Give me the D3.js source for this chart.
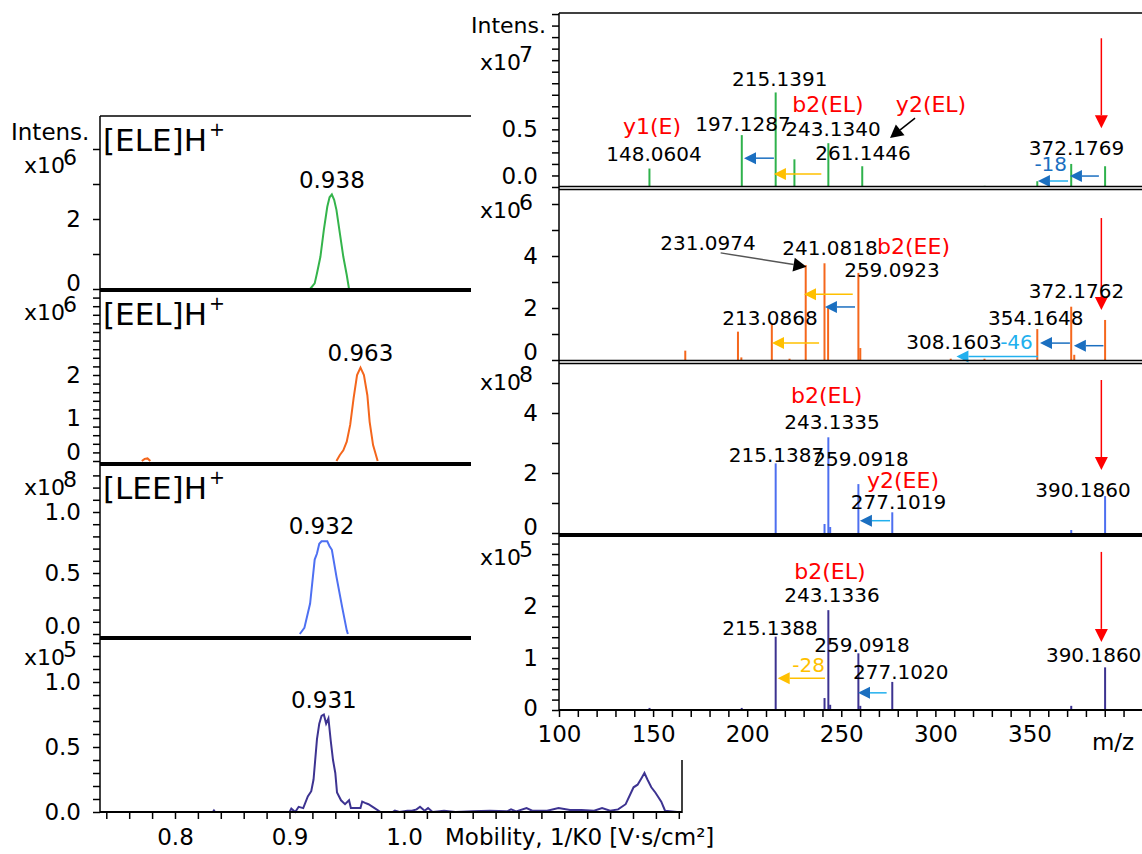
<!DOCTYPE html>
<html lang="en">
<head>
<meta charset="UTF-8">
<title>Mobilograms and MS/MS spectra</title>
<script src="https://d3js.org/d3.v7.min.js"></script>
<style>
  body { margin: 0; background: #fff; }
  svg text { font-family: "DejaVu Sans", Verdana, sans-serif; }
</style>
</head>
<body>
<div id="chart"></div>
<script>
// ---------- mobilogram data (1/K0, intensity) ----------
const eleMob = [0.918, 0.922, 0.924, 0.927, 0.930, 0.933, 0.935, 0.937, 0.939, 0.941, 0.944, 0.947, 0.950, 0.952];
const eleInt = [0, 0.16, 0.45, 0.92, 1.69, 2.35, 2.62, 2.70, 2.55, 2.26, 1.59, 0.92, 0.40, 0];

const eelMob = [0.771, 0.7735, 0.776, 0.7785, 0.86, 0.941, 0.944, 0.947, 0.950, 0.953, 0.956, 0.959, 0.962, 0.965, 0.968, 0.970, 0.973, 0.977];
const eelInt = [0, 0.05, 0.06, 0, null, 0, 0.14, 0.25, 0.45, 0.84, 1.46, 2.0, 2.17, 2.0, 1.53, 0.91, 0.37, 0];

const leeMob = [0.909, 0.913, 0.918, 0.922, 0.924, 0.926, 0.928, 0.933, 0.935, 0.937, 0.941, 0.946, 0.950, 0.951];
const leeInt = [0, 0.05, 0.25, 0.61, 0.66, 0.74, 0.76, 0.76, 0.72, 0.69, 0.47, 0.22, 0.03, 0];

const ticMob = [0.833, 0.834, 0.835, 0.900, 0.9016, 0.905, 0.908, 0.912, 0.916, 0.919, 0.921, 0.924, 0.926, 0.928, 0.930,
  0.932, 0.934, 0.936, 0.938, 0.940, 0.9415, 0.945, 0.9485, 0.952, 0.9536, 0.962, 0.9635, 0.966, 0.969, 0.9743, 0.9795,
  0.990, 0.992, 0.996, 1.003, 1.007, 1.011, 1.014, 1.018, 1.021, 1.025, 1.035, 1.045, 1.060, 1.075, 1.090, 1.0935, 1.098,
  1.107, 1.112, 1.125, 1.135, 1.145, 1.155, 1.166, 1.173, 1.180, 1.187, 1.1936, 1.2005, 1.204, 1.2074, 1.210, 1.2126,
  1.216, 1.2195, 1.2247, 1.228, 1.2385, 1.2415];
const ticInt = [0, 0.012, 0, 0, 0.026, 0, 0.04, 0.03, 0.12, 0.16, 0.25, 0.56, 0.68, 0.74, 0.75,
  0.68, 0.72, 0.55, 0.40, 0.30, 0.15, 0.09, 0.06, 0.09, 0.03, 0.03, 0.08, 0.07, 0.06, 0.03, 0,
  0, 0.01, 0, 0.01, 0.01, 0.02, 0.04, 0.01, 0.03, 0, 0.01, 0, 0.005, 0.01, 0.005, 0.02, 0.005,
  0.03, 0.01, 0.01, 0.03, 0.015, 0.015, 0.01, 0.03, 0.01, 0.02, 0.06, 0.19, 0.21, 0.26, 0.30, 0.25,
  0.19, 0.15, 0.08, 0.01, 0, 0];

const mobTicks = d3.range(0.74, 1.2401, 0.02).map(v => +v.toFixed(2));
const mobLabels = [0.8, 0.9, 1.0];
const peakLabels = ["0.938", "0.963", "0.932", "0.931"];
const ionNames = ["[ELE]H", "[EEL]H", "[LEE]H"];

// ---------- MS/MS spectra (m/z, intensity) ----------
const s1Mz  = [148.06, 197.13, 215.14, 225.10, 243.13, 261.14, 326.2, 354.16, 372.18, 390.19];
const s1Int = [0.16, 0.45, 0.82, 0.24, 0.38, 0.18, 0.01, 0.05, 0.20, 0.18];
const s2Mz  = [167.1, 195.1, 196.9, 213.09, 222.5, 231.10, 241.08, 243.0, 259.09, 260.1, 308.16, 326.1, 354.16, 372.18, 373.8, 390.19];
const s2Int = [0.36, 1.09, 0.10, 1.37, 0.05, 3.65, 3.72, 2.0, 3.35, 0.46, 0.05, 0.05, 1.19, 2.05, 0.20, 1.54];
const s3Mz  = [215.14, 241.1, 243.13, 244.1, 259.09, 277.10, 372.2, 390.19];
const s3Int = [2.32, 0.30, 3.19, 0.20, 1.63, 0.69, 0.10, 1.23];
const s4Mz  = [148.1, 197.1, 215.14, 241.1, 243.13, 244.1, 259.09, 260.1, 277.10, 372.2, 390.19];
const s4Int = [0.04, 0.04, 1.41, 0.23, 1.92, 0.10, 1.09, 0.08, 0.54, 0.08, 0.82];

const mzTicks = d3.range(100, 401, 10);
const mzLabels = [100, 150, 200, 250, 300, 350];

// annotations: [text, m/z, intensity]
const s1Peaks = [["148.0604", 150.5, 0.286], ["197.1287", 197.8, 0.546], ["215.1391", 217.3, 0.937],
  ["243.1340", 245.6, 0.503], ["261.1446", 261.5, 0.295], ["372.1769", 375.0, 0.338]];
const s1Ions = [["y1(E)", 149.4, 0.529], ["b2(EL)", 242.9, 0.72], ["y2(EL)", 297.7, 0.72]];
const s1Notes = [["-18", 361.3, 0.20, "blue"]];
const s1Shifts = [[214.2, 198.3, 0.25, "blue", "blue"], [239.4, 214.2, 0.113, "yellow", "yellow"],
  [386.9, 371.5, 0.095, "blue", "blue"], [370.5, 354.5, 0.052, "light", "blue"]];
const s1Pointers = [[289.2, 0.598, 275.9, 0.425]];
const s1Precursor = [388.2, 1.29, 0.51];

const s2Peaks = [["231.0974", 179.2, 4.5], ["241.0818", 244.0, 4.31], ["259.0923", 276.9, 3.46],
  ["213.0868", 212.1, 1.62], ["308.1603", 309.9, 0.70], ["354.1648", 353.3, 1.62], ["372.1762", 375.0, 2.65]];
const s2Ions = [["b2(EE)", 288.4, 4.36]];
const s2Notes = [["-46", 343.1, 0.70, "light"]];
const s2Shifts = [[256.1, 230.2, 2.53, "yellow", "yellow"], [257.3, 241.3, 2.04, "blue", "blue"],
  [238.2, 213.2, 0.65, "yellow", "yellow"], [354.5, 311.2, 0.13, "light", "light"],
  [371.5, 355.6, 0.65, "blue", "blue"], [389.3, 373.6, 0.55, "blue", "blue"]];
const s2Pointers = [[185.9, 4.12, 231.5, 3.59]];
const s2Precursor = [388.2, 5.46, 1.92];

const s3Peaks = [["243.1335", 245.1, 3.71], ["215.1387", 215.6, 2.6], ["259.0918", 260.5, 2.47],
  ["277.1019", 280.4, 1.04], ["390.1860", 378.4, 1.43]];
const s3Ions = [["b2(EL)", 242.2, 4.6], ["y2(EE)", 282.8, 1.75]];
const s3Notes = [];
const s3Shifts = [[275.9, 259.9, 0.41, "light", "blue"]];
const s3Pointers = [];
const s3Precursor = [388.2, 5.1, 2.1];

const s4Peaks = [["243.1336", 245.1, 2.21], ["215.1388", 212.1, 1.58], ["259.0918", 261.0, 1.25],
  ["277.1020", 281.6, 0.74], ["390.1860", 384.1, 1.06]];
const s4Ions = [["b2(EL)", 244.0, 2.66]];
const s4Notes = [["-28", 232.6, 0.87, "yellow"]];
const s4Shifts = [[241.3, 216.2, 0.61, "yellow", "yellow"], [274.1, 258.9, 0.33, "light", "blue"]];
const s4Pointers = [];
const s4Precursor = [388.2, 3.04, 1.31];

// ---------- styling ----------
const palette = { blue: "#1b6fc0", light: "#22b0ee", yellow: "#ffc000", red: "#ff0000" };
const FONT = "DejaVu Sans, Verdana, sans-serif";
const AXIS_FONT = 23;

const svg = d3.select("#chart").append("svg")
  .attr("width", 1142).attr("height", 854)
  .attr("font-family", FONT);

function hline(x1, x2, y, w) {
  svg.append("line").attr("x1", x1).attr("x2", x2).attr("y1", y).attr("y2", y)
    .attr("stroke", "#000").attr("stroke-width", w);
}
function vline(x, y1, y2, w) {
  svg.append("line").attr("x1", x).attr("x2", x).attr("y1", y1).attr("y2", y2)
    .attr("stroke", "#000").attr("stroke-width", w);
}
function expLabel(x, y, exp, size) {
  const t = svg.append("text").attr("x", x).attr("y", y).attr("dy", "0.35em")
    .attr("font-size", size).text("x10");
  t.append("tspan").attr("dy", -8).attr("dx", -2).text(exp);
}
function arrow(g, x1, y1, x2, y2, lineColor, headColor, hl, hw) {
  const dx = x2 - x1, dy = y2 - y1, L = Math.hypot(dx, dy), ux = dx / L, uy = dy / L;
  const bx = x2 - ux * hl, by = y2 - uy * hl;
  g.append("line").attr("x1", x1).attr("y1", y1).attr("x2", bx).attr("y2", by)
    .attr("stroke", lineColor).attr("stroke-width", 1.5);
  g.append("path")
    .attr("d", `M${x2},${y2}L${bx - uy * hw},${by + ux * hw}L${bx + uy * hw},${by - ux * hw}Z`)
    .attr("fill", headColor);
}
function yAxis(x, y, step, shown, fmt, lift, padding) {
  const vals = d3.range(0, y.domain()[1] + 1e-9, step).map(v => +v.toFixed(2));
  const ax = d3.axisLeft(y).tickValues(vals).tickSize(7).tickPadding(padding)
    .tickFormat(v => shown.some(s => Math.abs(s - v) < 1e-6) ? fmt(v) : "");
  const g = svg.append("g").attr("transform", `translate(${x},0)`).call(ax)
    .attr("font-size", AXIS_FONT).attr("font-family", FONT);
  g.select(".domain").remove();
  g.selectAll(".tick line").attr("stroke-width", 1.5);
  g.selectAll(".tick").filter(v => v === 0).select("text").attr("y", -lift);
  return g;
}

// ---------- left: mobilograms ----------
const xMob = d3.scaleLinear().domain([0.7345, 1.2428]).range([100, 682]);

const leftPanels = [
  { mob: eleMob, val: eleInt, color: "#34b44b", zero: 289, top: 116, per: 35, step: 1, shown: [0, 2], fmt: d3.format("d"), lift: 6, expY: 165, exp: "6" },
  { mob: eelMob, val: eelInt, color: "#f4661c", zero: 461, top: 290, per: 43, step: 0.2, shown: [0, 1, 2], fmt: d3.format("d"), lift: 9, expY: 312, exp: "6" },
  { mob: leeMob, val: leeInt, color: "#4e70f2", zero: 634, top: 464, per: 122, step: 0.1, shown: [0, 0.5, 1], fmt: d3.format(".1f"), lift: 8, expY: 487, exp: "8" },
  { mob: ticMob, val: ticInt, color: "#3d3391", zero: 812, top: 638, per: 130, step: 0.1, shown: [0, 0.5, 1], fmt: d3.format(".1f"), lift: 0, expY: 657, exp: "5" }
];

leftPanels.forEach((p, i) => {
  const y = d3.scaleLinear().domain([0, (p.zero - p.top) / p.per]).range([p.zero, p.top]);
  yAxis(100, y, p.step, p.shown, p.fmt, p.lift, 12);
  const line = d3.line().defined(d => d[1] !== null).x(d => xMob(d[0])).y(d => y(d[1]));
  svg.append("path").datum(d3.zip(p.mob, p.val)).attr("d", line)
    .attr("fill", "none").attr("stroke", p.color).attr("stroke-width", 2);
  const iMax = d3.maxIndex(p.val);
  svg.append("text").attr("x", xMob(p.mob[iMax])).attr("y", y(p.val[iMax]) - 7)
    .attr("text-anchor", "middle").attr("font-size", 23).text(peakLabels[i]);
  expLabel(24, p.expY, p.exp, 22);
  if (i < 3) {
    const t = svg.append("text").attr("x", 103).attr("y", p.top + 35).attr("font-size", 31).text(ionNames[i]);
    t.append("tspan").attr("font-size", 19).attr("dy", -15).attr("dx", 2).text("+");
  }
});
svg.append("text").attr("x", 11).attr("y", 132).attr("dy", "0.35em").attr("font-size", 23).text("Intens.");

hline(100, 472, 116, 1.5);
[290, 464, 638].forEach(yy => hline(100, 472, yy, 4));
vline(100, 116, 813, 1.5);
vline(682, 638, 813, 1.5);

const gMob = svg.append("g").attr("transform", "translate(0,812)")
  .call(d3.axisBottom(xMob).tickValues(mobTicks).tickSize(7).tickPadding(10)
    .tickFormat(v => mobLabels.some(s => Math.abs(s - v) < 1e-6) ? d3.format(".1f")(v) : ""))
  .attr("font-size", AXIS_FONT).attr("font-family", FONT);
gMob.select(".domain").remove();
gMob.selectAll(".tick line").attr("stroke-width", 1.5);
hline(100, 682, 812, 2);
svg.append("text").attr("x", 445).attr("y", 837).attr("dy", "0.35em").attr("font-size", AXIS_FONT)
  .text("Mobility, 1/K0 [V·s/cm²]");

// ---------- right: MS/MS spectra ----------
svg.append("rect").attr("x", 471).attr("y", 0).attr("width", 671).attr("height", 760).attr("fill", "#fff");

const xMz = d3.scaleLinear().domain([100, 409.8]).range([559, 1142]);

const rightPanels = [
  { mz: s1Mz, val: s1Int, color: "#2fb24c", zero: 187, top: 13, per: 115.3, step: 0.1, shown: [0, 0.5], fmt: d3.format(".1f"), lift: 11, expY: 62, exp: "7",
    peaks: s1Peaks, ions: s1Ions, notes: s1Notes, shifts: s1Shifts, pointers: s1Pointers, prec: s1Precursor, ptrLine: "#000" },
  { mz: s2Mz, val: s2Int, color: "#f5671c", zero: 360, top: 190, per: 26, step: 1, shown: [0, 2, 4], fmt: d3.format("d"), lift: 8, expY: 210, exp: "6",
    peaks: s2Peaks, ions: s2Ions, notes: s2Notes, shifts: s2Shifts, pointers: s2Pointers, prec: s2Precursor, ptrLine: "#555" },
  { mz: s3Mz, val: s3Int, color: "#4d6ff0", zero: 533, top: 365, per: 30, step: 1, shown: [0, 2, 4], fmt: d3.format("d"), lift: 6, expY: 382, exp: "8",
    peaks: s3Peaks, ions: s3Ions, notes: s3Notes, shifts: s3Shifts, pointers: s3Pointers, prec: s3Precursor, ptrLine: "#000" },
  { mz: s4Mz, val: s4Int, color: "#3c3290", zero: 710, top: 537, per: 52, step: 0.2, shown: [0, 1, 2], fmt: d3.format("d"), lift: 2, expY: 557, exp: "5",
    peaks: s4Peaks, ions: s4Ions, notes: s4Notes, shifts: s4Shifts, pointers: s4Pointers, prec: s4Precursor, ptrLine: "#000" }
];

rightPanels.forEach(p => {
  const y = d3.scaleLinear().domain([0, (p.zero - p.top) / p.per]).range([p.zero, p.top]);
  yAxis(559, y, p.step, p.shown, p.fmt, p.lift, 14);
  const g = svg.append("g");
  g.selectAll("line.stick").data(d3.zip(p.mz, p.val)).join("line").attr("class", "stick")
    .attr("x1", d => xMz(d[0])).attr("x2", d => xMz(d[0]))
    .attr("y1", y(0)).attr("y2", d => y(d[1]))
    .attr("stroke", p.color).attr("stroke-width", 2);
  p.shifts.forEach(a => arrow(g, xMz(a[0]), y(a[2]), xMz(a[1]), y(a[2]), palette[a[3]], palette[a[4]], 12, 6));
  p.pointers.forEach(a => arrow(g, xMz(a[0]), y(a[1]), xMz(a[2]), y(a[3]), p.ptrLine, "#000", 13, 7));
  arrow(g, xMz(p.prec[0]), y(p.prec[1]), xMz(p.prec[0]), y(p.prec[2]), palette.red, palette.red, 13, 6.5);
  p.peaks.forEach(l => g.append("text").attr("x", xMz(l[1])).attr("y", y(l[2])).attr("dy", "0.35em")
    .attr("text-anchor", "middle").attr("font-size", 20).text(l[0]));
  p.ions.forEach(l => g.append("text").attr("x", xMz(l[1])).attr("y", y(l[2])).attr("dy", "0.35em")
    .attr("text-anchor", "middle").attr("font-size", 22).attr("fill", palette.red).text(l[0]));
  p.notes.forEach(l => g.append("text").attr("x", xMz(l[1])).attr("y", y(l[2])).attr("dy", "0.35em")
    .attr("text-anchor", "middle").attr("font-size", 20).attr("fill", palette[l[3]]).text(l[0]));
  expLabel(480, p.expY, p.exp, 22);
});
svg.append("text").attr("x", 471).attr("y", 25).attr("dy", "0.35em").attr("font-size", 22).text("Intens.");

hline(559, 1142, 13, 1.5);
hline(559, 1142, 186.5, 1.5);
hline(559, 1142, 189.5, 1.5);
hline(559, 1142, 360.5, 1.5);
hline(559, 1142, 363.5, 1.5);
hline(559, 1142, 535, 4);
vline(559, 13, 711, 1.5);

const gMz = svg.append("g").attr("transform", "translate(0,710)")
  .call(d3.axisBottom(xMz).tickValues(mzTicks).tickSize(7).tickPadding(9)
    .tickFormat(v => mzLabels.includes(v) ? v : ""))
  .attr("font-size", AXIS_FONT).attr("font-family", FONT);
gMz.select(".domain").remove();
gMz.selectAll(".tick line").attr("stroke-width", 1.5);
hline(559, 1142, 710, 2);
svg.append("text").attr("x", 1113).attr("y", 742).attr("dy", "0.35em").attr("text-anchor", "middle")
  .attr("font-size", AXIS_FONT).text("m/z");
</script>
</body>
</html>
